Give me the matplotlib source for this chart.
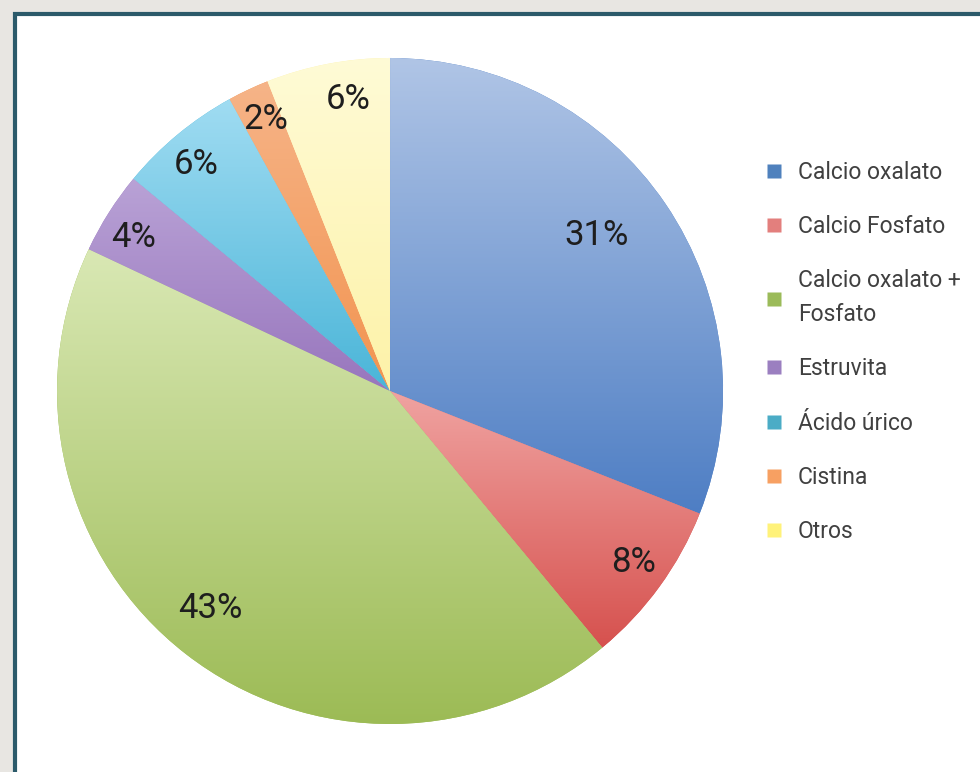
import numpy as np
import matplotlib
matplotlib.use("Agg")
import matplotlib.pyplot as plt
from matplotlib.colors import LinearSegmentedColormap
from matplotlib.patches import Rectangle
from matplotlib.lines import Line2D

categorias = ["Calcio oxalato", "Calcio Fosfato", "Calcio oxalato +\nFosfato",
              "Estruvita", "Ácido úrico", "Cistina", "Otros"]
porcentajes = [31, 8, 43, 4, 6, 2, 6]

# colores (claro arriba, oscuro abajo) y color del marcador de leyenda
claros = ["#b0c5e6", "#f0a3a1", "#d9e8b4", "#b9a2d6", "#a0dcf2", "#f6b488", "#fffbd6"]
oscuros = ["#4e7ec4", "#d6514e", "#9cbb55", "#9876bd", "#4ab5d8", "#f29450", "#fdf2a8"]
marcas = ["#4f81bd", "#e37f7d", "#9bbb59", "#9b7fc0", "#4bacc6", "#f7a062", "#fff27a"]
# posicion de las etiquetas (radio relativo y desvio angular en grados)
dist_etiqueta = [0.78, 0.89, 0.845, 0.90, 0.90, 0.90, 0.89]
desvio_ang = [3.0, 1.1, -2.0, 1.2, 0.7, -0.8, -2.7]

fig = plt.figure(figsize=(9.8, 7.72), dpi=100)
fig.patch.set_facecolor("#e8e6e2")

# panel blanco con borde
panel = Rectangle((15 / 980, -0.05), 1.0, 1 - 14 / 772 + 0.05, transform=fig.transFigure,
                  facecolor="white", edgecolor="#2b5a6a", linewidth=3, zorder=-5)
fig.patches.append(panel)

ax = fig.add_axes([0.0582, 0.0622, 0.6796, 0.8627])
ax.set_zorder(1)
ax.patch.set_alpha(0)
ax.set_xlim(-1, 1)
ax.set_ylim(-1, 1)
ax.set_aspect("equal")
ax.axis("off")

wedges, _ = ax.pie(porcentajes, startangle=90, counterclock=False, radius=1,
                   colors=oscuros, wedgeprops=dict(linewidth=0))

grad = np.linspace(0, 1, 256).reshape(-1, 1)
for w, c1, c2 in zip(wedges, claros, oscuros):
    v = w.get_path().vertices
    x0, x1 = v[:, 0].min(), v[:, 0].max()
    y0, y1 = v[:, 1].min(), v[:, 1].max()
    cmap = LinearSegmentedColormap.from_list("g", [c1, c2])
    im = ax.imshow(grad, extent=[x0, x1, y0, y1], cmap=cmap, aspect="auto",
                   origin="upper", zorder=2, interpolation="bilinear")
    im.set_clip_path(w)
ax.set_xlim(-1, 1)
ax.set_ylim(-1, 1)

fuente = ["Roboto", "DejaVu Sans"]
for w, p, d, da in zip(wedges, porcentajes, dist_etiqueta, desvio_ang):
    ang = np.deg2rad((w.theta1 + w.theta2) / 2 + da)
    ax.text(d * np.cos(ang), d * np.sin(ang) - 0.005, f"{p}%", ha="center", va="center",
            fontsize=25, color="#1e1e1e", family=fuente, zorder=5)

handles = [Line2D([], [], marker="s", linestyle="none", markersize=10,
                  markerfacecolor=c, markeredgecolor="none") for c in marcas]
leg = fig.legend(handles, categorias, loc="upper left", bbox_to_anchor=(0.757, 0.818),
                 frameon=False, handletextpad=0.55, labelspacing=1.36,
                 prop=dict(family=fuente, size=16.5), labelcolor="#404040",
                 handlelength=1.0)
for t in leg.get_texts():
    t.set_linespacing(1.6)

fig.savefig("out.png", dpi=100, facecolor=fig.get_facecolor())
